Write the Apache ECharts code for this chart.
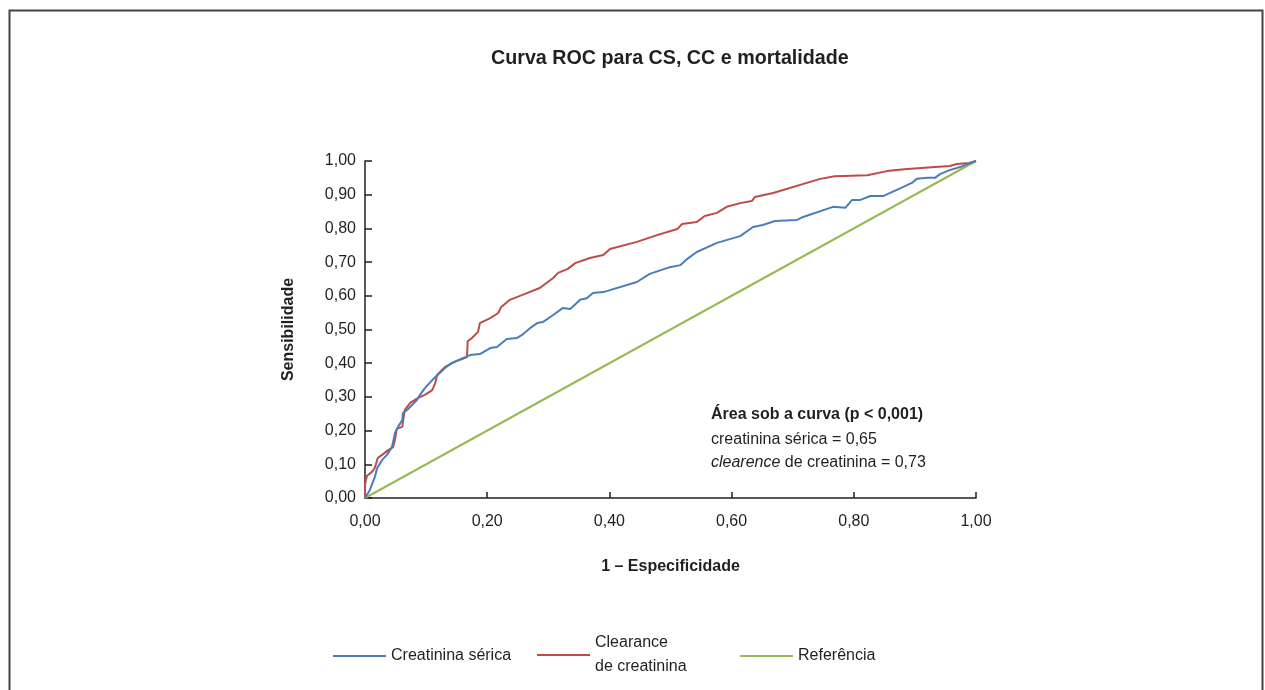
<!DOCTYPE html>
<html>
<head>
<meta charset="utf-8">
<script src="https://cdn.jsdelivr.net/npm/echarts@6/dist/echarts.min.js"></script>
<style>
html,body{margin:0;padding:0;background:#fff;}
#chart{width:1265px;height:690px;}
</style>
</head>
<body>
<div id="chart"></div>
<script>
// Creatinina sérica (1 - especificidade, sensibilidade)
const csX = [0, 0.008, 0.016, 0.020, 0.028, 0.036, 0.044, 0.046, 0.049, 0.054, 0.061, 0.062, 0.069, 0.077, 0.085, 0.090, 0.098, 0.110, 0.131, 0.142, 0.160, 0.172, 0.188, 0.205, 0.216, 0.232, 0.249, 0.257, 0.270, 0.282, 0.291, 0.308, 0.324, 0.336, 0.352, 0.363, 0.373, 0.390, 0.445, 0.466, 0.499, 0.516, 0.527, 0.543, 0.576, 0.614, 0.635, 0.651, 0.671, 0.707, 0.717, 0.766, 0.786, 0.797, 0.810, 0.827, 0.848, 0.881, 0.895, 0.903, 0.921, 0.933, 0.941, 0.957, 0.974, 0.990, 1];
const csY = [0, 0.024, 0.062, 0.089, 0.113, 0.128, 0.151, 0.166, 0.193, 0.211, 0.231, 0.252, 0.261, 0.276, 0.291, 0.306, 0.326, 0.350, 0.386, 0.401, 0.415, 0.424, 0.427, 0.445, 0.448, 0.472, 0.475, 0.484, 0.504, 0.519, 0.522, 0.543, 0.564, 0.561, 0.588, 0.593, 0.608, 0.611, 0.641, 0.665, 0.685, 0.691, 0.709, 0.730, 0.757, 0.777, 0.804, 0.810, 0.822, 0.825, 0.834, 0.864, 0.861, 0.884, 0.884, 0.896, 0.896, 0.923, 0.935, 0.947, 0.950, 0.950, 0.961, 0.973, 0.982, 0.994, 1];
// Clearance de creatinina
const ccX = [0, 0, 0.003, 0.011, 0.016, 0.021, 0.028, 0.038, 0.046, 0.049, 0.052, 0.061, 0.065, 0.074, 0.087, 0.098, 0.110, 0.115, 0.118, 0.131, 0.147, 0.167, 0.168, 0.175, 0.185, 0.188, 0.205, 0.218, 0.223, 0.237, 0.265, 0.286, 0.308, 0.316, 0.332, 0.344, 0.368, 0.390, 0.401, 0.445, 0.478, 0.511, 0.519, 0.543, 0.556, 0.576, 0.592, 0.614, 0.633, 0.638, 0.668, 0.745, 0.769, 0.822, 0.854, 0.887, 0.957, 0.969, 0.990, 1];
const ccY = [0, 0.039, 0.065, 0.077, 0.089, 0.119, 0.128, 0.142, 0.151, 0.172, 0.205, 0.211, 0.261, 0.282, 0.297, 0.306, 0.320, 0.341, 0.365, 0.389, 0.404, 0.418, 0.465, 0.475, 0.493, 0.519, 0.534, 0.549, 0.567, 0.588, 0.608, 0.623, 0.653, 0.668, 0.680, 0.697, 0.712, 0.721, 0.739, 0.760, 0.780, 0.798, 0.813, 0.819, 0.837, 0.846, 0.864, 0.875, 0.881, 0.893, 0.905, 0.947, 0.955, 0.958, 0.970, 0.976, 0.985, 0.991, 0.994, 1];
// Referência
const refX = [0, 1];
const refY = [0, 1];

const seriesNames = ['Creatinina sérica', 'Clearance\nde creatinina', 'Referência'];
const titleText = 'Curva ROC para CS, CC e mortalidade';
const xAxisName = '1 – Especificidade';
const yAxisName = 'Sensibilidade';
const noteLines = ['Área sob a curva (p < 0,001)', 'creatinina sérica = 0,65', 'de creatinina = 0,73'];
const noteItalic = 'clearence';

const pairs = (xs, ys) => xs.map((x, i) => [x, ys[i]]);
const fmt = v => v.toFixed(2).replace('.', ',');
const FONT = 'Liberation Sans';
const TXT = '#231f20';

const chart = echarts.init(document.getElementById('chart'));
const legendBase = {
  orient: 'horizontal', padding: 0, itemWidth: 53, itemHeight: 2, itemGap: 10, icon: 'rect',
  textStyle: { fontFamily: FONT, fontSize: 16, color: TXT, lineHeight: 24 }
};
chart.setOption({
  backgroundColor: '#fff',
  animation: false,
  title: {
    text: titleText, left: 491, top: 49, padding: 0,
    textStyle: { fontFamily: FONT, fontSize: 19.7, fontWeight: 'bold', color: TXT }
  },
  legend: [
    Object.assign({}, legendBase, { data: [seriesNames[0]], left: 333, top: 644 }),
    Object.assign({}, legendBase, { data: [seriesNames[1]], left: 537, top: 631 }),
    Object.assign({}, legendBase, { data: [seriesNames[2]], left: 740, top: 644 })
  ],
  grid: { left: 365, right: 289, top: 161, bottom: 192 },
  xAxis: {
    type: 'value', min: 0, max: 1, interval: 0.2,
    name: xAxisName, nameLocation: 'middle', nameGap: 61,
    nameTextStyle: { fontFamily: FONT, fontSize: 16, fontWeight: 'bold', color: TXT },
    axisLine: { lineStyle: { color: '#231f20', width: 1.5 } },
    axisTick: { inside: true, length: 6, lineStyle: { color: '#231f20', width: 1.5 } },
    axisLabel: { formatter: fmt, fontFamily: FONT, fontSize: 16, color: TXT, margin: 16 },
    splitLine: { show: false }
  },
  yAxis: {
    type: 'value', min: 0, max: 1, interval: 0.1,
    name: yAxisName, nameLocation: 'middle', nameGap: 68,
    nameTextStyle: { fontFamily: FONT, fontSize: 16, fontWeight: 'bold', color: TXT },
    axisLine: { show: true, lineStyle: { color: '#231f20', width: 1.5 } },
    axisTick: { show: true, inside: true, length: 7, lineStyle: { color: '#231f20', width: 1.5 } },
    axisLabel: { formatter: fmt, fontFamily: FONT, fontSize: 16, color: TXT, margin: 9 },
    splitLine: { show: false }
  },
  series: [
    { name: seriesNames[0], type: 'line', data: pairs(csX, csY), showSymbol: false, symbol: 'none',
      lineStyle: { color: '#4a7ebb', width: 2 }, itemStyle: { color: '#4a7ebb' }, z: 3 },
    { name: seriesNames[1], type: 'line', data: pairs(ccX, ccY), showSymbol: false, symbol: 'none',
      lineStyle: { color: '#be4b48', width: 2 }, itemStyle: { color: '#be4b48' }, z: 2 },
    { name: seriesNames[2], type: 'line', data: pairs(refX, refY), showSymbol: false, symbol: 'none',
      lineStyle: { color: '#98b954', width: 2 }, itemStyle: { color: '#98b954' }, z: 1 }
  ],
  graphic: [
    { type: 'polyline', shape: { points: [[9.5, 700], [9.5, 10.5], [1262.5, 10.5], [1262.5, 700]] },
      style: { stroke: '#444', lineWidth: 2, fill: null }, silent: true },
    { type: 'text', left: 711, top: 407,
      style: { text: noteLines[0], fontFamily: FONT, fontSize: 16, fontWeight: 'bold', fill: TXT } },
    { type: 'text', left: 711, top: 432,
      style: { text: noteLines[1], fontFamily: FONT, fontSize: 16, fill: TXT } },
    { type: 'text', left: 711, top: 455,
      style: { text: '{i|' + noteItalic + '} ' + noteLines[2], fontFamily: FONT, fontSize: 16, fill: TXT,
        rich: { i: { fontStyle: 'italic', fontFamily: FONT, fontSize: 16, fill: TXT } } } }
  ]
});
</script>
</body>
</html>
